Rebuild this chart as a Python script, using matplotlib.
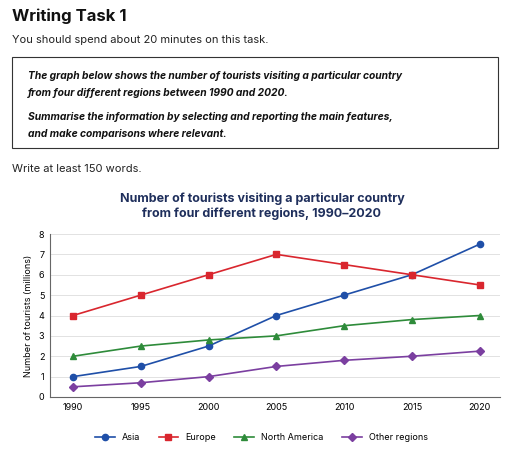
import matplotlib
matplotlib.use("Agg")
import matplotlib.pyplot as plt
from matplotlib.patches import Rectangle

years = [1990, 1995, 2000, 2005, 2010, 2015, 2020]
asia = [1, 1.5, 2.5, 4, 5, 6, 7.5]
europe = [4, 5, 6, 7, 6.5, 6, 5.5]
north_america = [2, 2.5, 2.8, 3, 3.5, 3.8, 4]
other = [0.5, 0.7, 1, 1.5, 1.8, 2, 2.25]

plt.rcParams['font.family'] = ['Inter', 'DejaVu Sans']
W, H = 512, 467
fig = plt.figure(figsize=(W/100, H/100), dpi=100)

def fy(p): return 1 - p/H
def fx(p): return p/W

fig.text(fx(12), fy(16), "Writing Task 1", fontsize=12, fontweight='bold', va='center', color='#111')
fig.text(fx(12), fy(40), "You should spend about 20 minutes on this task.", fontsize=8, va='center', color='#222')
fig.patches.append(Rectangle((fx(12), fy(148)), fx(486), (148-57)/H, transform=fig.transFigure,
                             fill=False, edgecolor='#333', linewidth=0.8))
for y, t in [(76, "The graph below shows the number of tourists visiting a particular country"),
             (93, "from four different regions between 1990 and 2020."),
             (117, "Summarise the information by selecting and reporting the main features,"),
             (134, "and make comparisons where relevant.")]:
    fig.text(fx(28), fy(y), t, fontsize=7.4, fontweight='bold', fontstyle='italic', va='center', color='#111')
fig.text(fx(12), fy(169), "Write at least 150 words.", fontsize=8, va='center', color='#222')
fig.text(fx(262), fy(206), "Number of tourists visiting a particular country\nfrom four different regions, 1990–2020",
         fontsize=9, fontweight='bold', color='#1f2f5c', ha='center', va='center', linespacing=1.3)

ax = fig.add_axes([fx(50), fy(397), fx(450), (397-234)/H])
ax.plot(years, asia, color='#1f4fa8', marker='o', ms=4.5, lw=1.2, label='Asia')
ax.plot(years, europe, color='#d9262e', marker='s', ms=4.5, lw=1.2, label='Europe')
ax.plot(years, north_america, color='#2e8b3a', marker='^', ms=5, lw=1.2, label='North America')
ax.plot(years, other, color='#7b3fa0', marker='D', ms=4, lw=1.2, label='Other regions')
ax.set_xlim(1988.3, 2021.5)
ax.set_ylim(0, 8)
ax.set_xticks(years)
ax.set_yticks(range(9))
ax.tick_params(labelsize=6.5, length=0, pad=4)
ax.grid(axis='y', color='#ddd', lw=0.6)
for s in ['top', 'right']:
    ax.spines[s].set_visible(False)
ax.spines['left'].set_color('#666')
ax.spines['bottom'].set_color('#666')
ax.set_ylabel("Number of tourists (millions)", fontsize=6.5)
ax.legend(loc='upper center', bbox_to_anchor=(0.47, -0.17), ncol=4, frameon=False, fontsize=6.5,
          handlelength=2.2, columnspacing=2)
fig.savefig("out.png", dpi=100)
